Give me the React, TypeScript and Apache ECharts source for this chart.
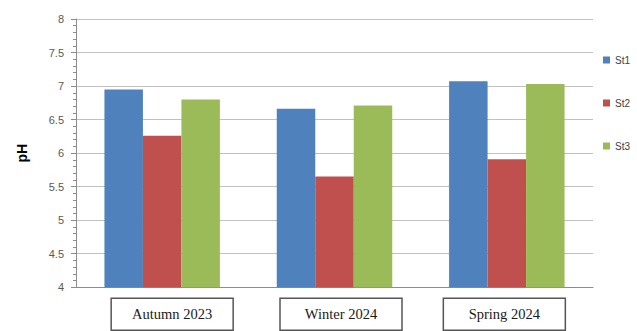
import React, { useEffect, useRef } from "react";
import * as echarts from "echarts";

const categories = ["Autumn 2023", "Winter 2024", "Spring 2024"];
const seriesNames = ["St1", "St2", "St3"];
const st1 = [6.95, 6.66, 7.07];
const st2 = [6.26, 5.65, 5.91];
const st3 = [6.8, 6.71, 7.03];
const yTicks = { min: 4, max: 8, interval: 0.5 };
const colors = ["#4F81BD", "#C0504D", "#9BBB59"];

export default function App() {
  const ref = useRef<HTMLDivElement>(null);
  useEffect(() => {
    document.body.style.margin = "0";
    const chart = echarts.init(ref.current!, null, { renderer: "svg" });
    const values = [st1, st2, st3];
    const boxStyle = {
      fontFamily: "Liberation Serif",
      fontSize: 14.5,
      color: "#1a1a1a",
      borderColor: "#555",
      borderWidth: 1.5,
      width: 118,
      height: 26,
      lineHeight: 22,
      align: "center",
      verticalAlign: "top",
      padding: [3, 2, 3, 2],
    };
    chart.setOption({
      animation: false,
      backgroundColor: "#ffffff",
      grid: { left: 76, right: 44, top: 19, bottom: 43 },
      legend: {
        orient: "vertical",
        left: 598,
        top: 50,
        itemWidth: 7,
        itemHeight: 7,
        itemGap: 33,
        icon: "rect",
        textStyle: { fontSize: 10, color: "#404040", fontFamily: "Liberation Sans" },
        data: seriesNames,
      },
      xAxis: {
        type: "category",
        data: categories,
        axisLine: { lineStyle: { color: "#8c8c8c", width: 1 } },
        axisTick: { show: false },
        axisLabel: {
          margin: 11,
          formatter: (v: string, i: number) =>
            i === 0 ? `{l0|}{box|${v}}` : i === 1 ? `{l1|}{box|${v}}` : `{box|${v}}{r2|}`,
          rich: {
            box: boxStyle,
            l0: { width: 20, height: 10 },
            l1: { width: 13, height: 10 },
            r2: { width: 5, height: 10 },
          },
        },
      },
      yAxis: {
        type: "value",
        min: yTicks.min,
        max: yTicks.max,
        interval: yTicks.interval,
        name: "pH",
        nameLocation: "middle",
        nameGap: 47,
        nameRotate: 90,
        nameTextStyle: { fontSize: 14, fontWeight: "bold", color: "#000", fontFamily: "Liberation Sans" },
        axisLine: { show: true, lineStyle: { color: "#8c8c8c", width: 1 } },
        axisTick: { show: true, length: 5, lineStyle: { color: "#8c8c8c" } },
        minorTick: { show: true, splitNumber: 5, length: 3, lineStyle: { color: "#8c8c8c" } },
        splitLine: { lineStyle: { color: "#c0c0c0", width: 1 } },
        axisLabel: {
          margin: 12,
          fontSize: 11,
          color: "#595959",
          fontFamily: "Liberation Sans",
          formatter: (v: number) => String(v),
        },
      },
      series: seriesNames.map((name, i) => ({
        name,
        type: "bar",
        data: values[i],
        barGap: "0%",
        barCategoryGap: "33%",
        itemStyle: { color: colors[i] },
      })),
    });
    return () => chart.dispose();
  }, []);
  return <div ref={ref} style={{ width: 637, height: 331 }} />;
}
